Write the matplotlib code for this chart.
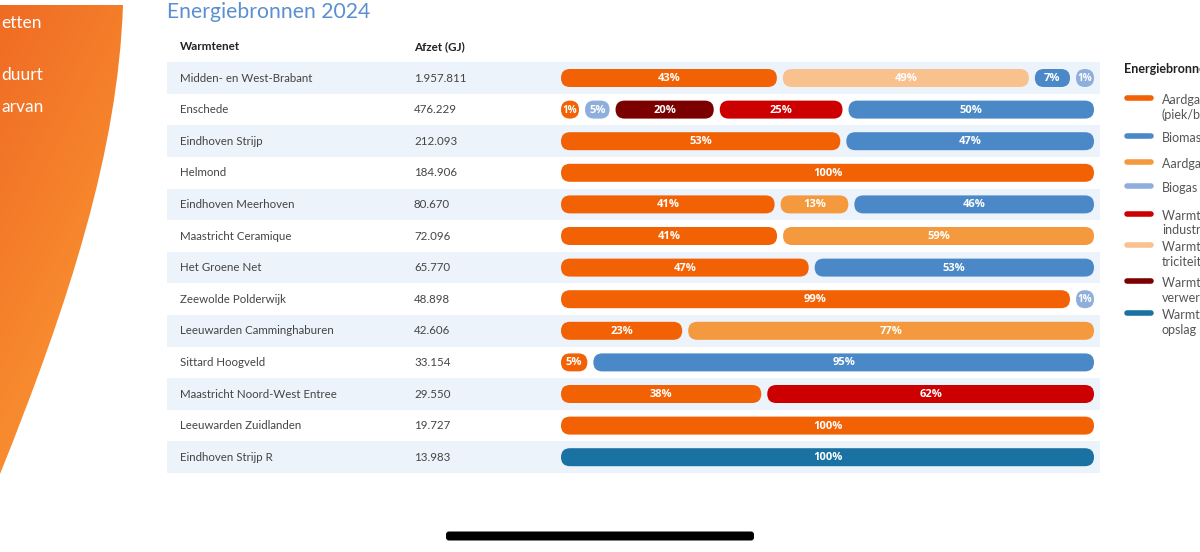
import matplotlib.pyplot as plt
import numpy as np
from matplotlib.patches import FancyBboxPatch, PathPatch
from matplotlib.path import Path

plt.rcParams['font.family'] = ['Lato', 'DejaVu Sans']

# data
title = "Energiebronnen 2024"
networks = ["Midden- en West-Brabant", "Enschede", "Eindhoven Strijp", "Helmond",
            "Eindhoven Meerhoven", "Maastricht Ceramique", "Het Groene Net",
            "Zeewolde Polderwijk", "Leeuwarden Camminghaburen", "Sittard Hoogveld",
            "Maastricht Noord-West Entree", "Leeuwarden Zuidlanden", "Eindhoven Strijp R"]
afzet = ["1.957.811", "476.229", "212.093", "184.906", "80.670", "72.096", "65.770",
         "48.898", "42.606", "33.154", "29.550", "19.727", "13.983"]

# share per network, in drawing order: (source, percent)
shares = [
    [("aardgas", 43), ("elek", 49), ("biomassa", 7), ("biogas", 1)],
    [("aardgas", 1), ("biogas", 5), ("afval", 20), ("industrie", 25), ("biomassa", 50)],
    [("aardgas", 53), ("biomassa", 47)],
    [("aardgas", 100)],
    [("aardgas", 41), ("wkk", 13), ("biomassa", 46)],
    [("aardgas", 41), ("wkk", 59)],
    [("aardgas", 47), ("biomassa", 53)],
    [("aardgas", 99), ("biogas", 1)],
    [("aardgas", 23), ("wkk", 77)],
    [("aardgas", 5), ("biomassa", 95)],
    [("aardgas", 38), ("industrie", 62)],
    [("aardgas", 100)],
    [("opslag", 100)],
]

sources = ["aardgas", "biomassa", "wkk", "biogas", "industrie", "elek", "afval", "opslag"]
source_labels = ["Aardgas\n(piek/back-up)", "Biomassa", "Aardgas WKK", "Biogas",
                 "Warmte uit\nindustrie", "Warmte uit elek-\ntriciteitscentrale",
                 "Warmte uit afval-\nverwerking", "Warmte-koude-\nopslag"]
colors = {"aardgas": "#f26205", "biomassa": "#4a88c8", "wkk": "#f4993d", "biogas": "#8eaedb",
          "industrie": "#cc0000", "elek": "#f9c18e", "afval": "#7b0000", "opslag": "#1a72a2"}

fig = plt.figure(figsize=(12, 5.52), dpi=100)
ax = fig.add_axes([0, 0, 1, 1])

# orange curved panel on the left (gradient)
verts = [(0, 5), (123, 5), (118, 150), (70, 300), (0, 474), (0, 5)]
codes = [Path.MOVETO, Path.LINETO, Path.CURVE4, Path.CURVE4, Path.CURVE4, Path.CLOSEPOLY]
panel = PathPatch(Path(verts, codes), facecolor='none', edgecolor='none')
ax.add_patch(panel)
gx, gy = np.meshgrid(np.linspace(0, 1, 60), np.linspace(0, 1, 200))
t = np.clip(0.35 * gx + 0.65 * gy, 0, 1)[..., None]
c1 = np.array([0.94, 0.42, 0.14])
c2 = np.array([0.99, 0.62, 0.21])
img = ax.imshow(c1 * (1 - t) + c2 * t, extent=[0, 125, 476, 5], origin='upper', zorder=1)
img.set_clip_path(panel)
for y, word in zip([23, 75, 107], ["etten", "duurt", "arvan"]):
    ax.text(1, y, word, color='white', fontsize=12.5, va='center', ha='left', zorder=2)

ax.text(167, 12, title, color='#5b8fcf', fontsize=15.2, va='center', ha='left')
ax.text(180, 47, "Warmtenet", color='#222222', fontsize=8.4, fontweight='bold', va='center')
ax.text(414, 47, "Afzet (GJ)", color='#222222', fontsize=8.4, fontweight='bold', va='center')

row0, step = 78, 31.6
bar_x0, bar_x1, bar_h, gap = 561, 1094, 18, 6
for i, (name, val, segs) in enumerate(zip(networks, afzet, shares)):
    yc = row0 + i * step
    if i % 2 == 0:
        ax.add_patch(plt.Rectangle((167, yc - step / 2), 933, step, color='#edf3fa', lw=0, zorder=0))
    ax.text(180, yc, name, color='#444444', fontsize=8.3, va='center')
    ax.text(414, yc, val, color='#444444', fontsize=8.3, va='center')

    # widths: proportional, with a minimum of one bar height
    avail = (bar_x1 - bar_x0) - gap * (len(segs) - 1)
    pcts = np.array([p for _, p in segs], dtype=float)
    widths = pcts / 100 * avail
    small = widths < bar_h
    rest = avail - bar_h * small.sum()
    widths = np.where(small, bar_h, pcts / pcts[~small].sum() * rest)
    x = bar_x0
    for (src, p), w in zip(segs, widths):
        r = bar_h / 2
        ax.add_patch(FancyBboxPatch((x + r, yc - bar_h / 2 + r), w - 2 * r, bar_h - 2 * r,
                                    boxstyle=f"round,pad={r}", facecolor=colors[src],
                                    edgecolor='none', zorder=3))
        fs = 7.2 if w <= bar_h + 1 else 8
        ax.text(x + w / 2, yc + 0.5, f"{p}%", color='white', fontsize=fs, fontweight='bold',
                family=['Open Sans', 'DejaVu Sans'], ha='center', va='center', zorder=4)
        x += w + gap

# legend
ax.text(1124, 69, "Energiebronnen", color='#222222', fontsize=9, fontweight='bold', va='center')
leg_y = [96, 134, 160, 184, 212, 243, 279, 311]
for y, src, lab in zip(leg_y, sources, source_labels):
    ax.plot([1127, 1151], [y + 2, y + 2], color=colors[src], lw=4, solid_capstyle='round')
    ax.text(1162, y - 2, lab, color='#555555', fontsize=9, va='top', ha='left',
            linespacing=1.25)

# phone home indicator
ax.add_patch(FancyBboxPatch((449, 534.5), 302, 3, boxstyle="round,pad=3", facecolor='black',
                            edgecolor='none'))

ax.set_xlim(0, 1200)
ax.set_ylim(552, 0)
ax.axis('off')
fig.savefig("out.png", dpi=100)
